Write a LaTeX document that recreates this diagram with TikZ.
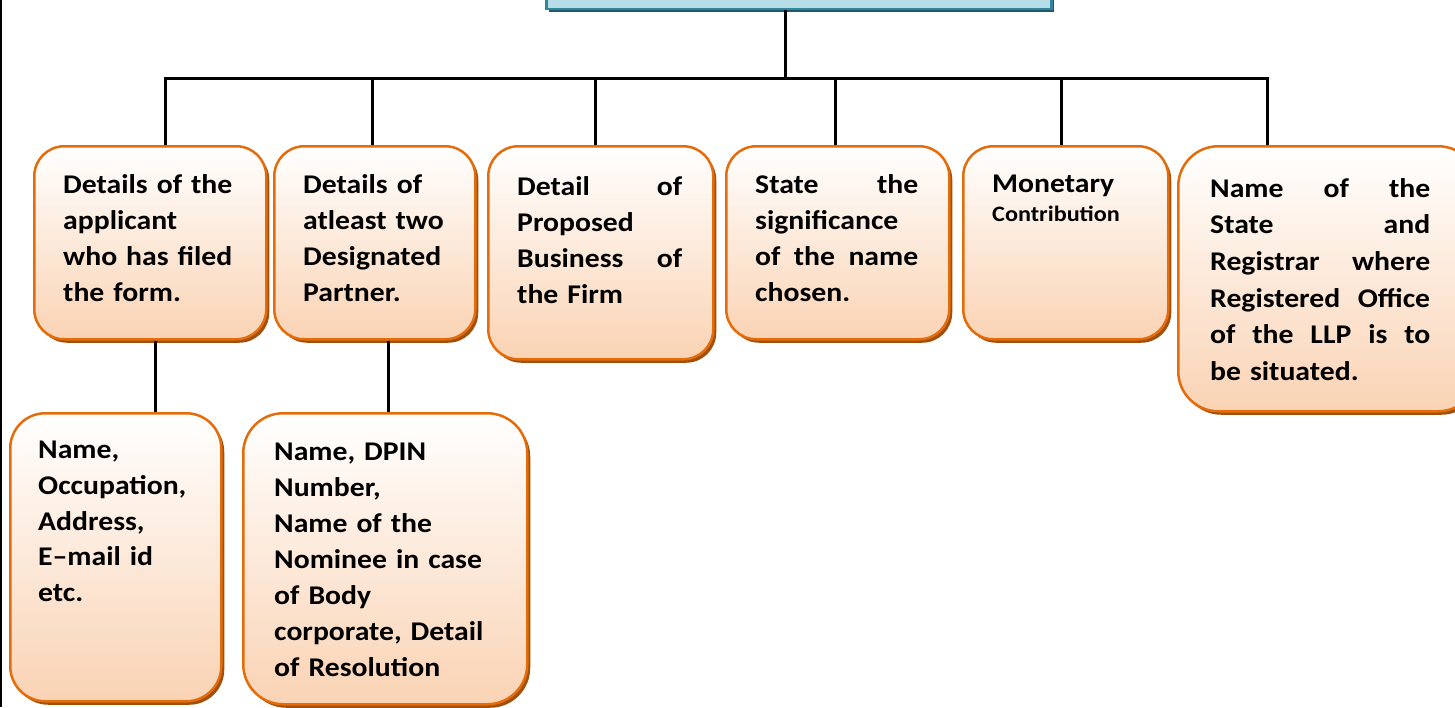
\documentclass[tikz,border=0pt]{standalone}
\usepackage{fontspec}
\setmainfont{Carlito}[FakeStretch=1.1]
\usetikzlibrary{shadows}
\definecolor{obord}{HTML}{E46C0A}
\definecolor{ofill}{HTML}{FAD3B4}
\definecolor{oshad}{HTML}{A0500A}
\definecolor{bfill}{HTML}{B7DEE8}
\definecolor{bbord}{HTML}{31859C}
\definecolor{bshad}{HTML}{215968}
\newcommand{\J}[1]{\leavevmode\hbox to \hsize{\spaceskip=0.25em plus 1fil\relax #1}}
\begin{document}
\begin{tikzpicture}[x=1pt,y=-1pt,
  obox/.style={draw=obord, line width=2.5pt, rounded corners=30pt, top color=white, bottom color=ofill,
    anchor=north west, inner sep=0pt,
    drop shadow={shadow xshift=3pt, shadow yshift=-3.5pt, fill=oshad, opacity=1}},
  txt/.style={anchor=north west, inner sep=0pt, align=left, font=\fontsize{27}{36}\selectfont\bfseries},
  conn/.style={line width=3pt, black}]
\clip (0,0) rectangle (1455,707);
\fill[white] (0,0) rectangle (1455,707);
\draw[line width=2pt] (1,0) -- (1,707);
% top box
\node[draw=bbord, line width=2.5pt, fill=bfill, minimum width=505pt, minimum height=40pt, inner sep=0pt,
  anchor=south west, drop shadow={shadow xshift=3pt, shadow yshift=-3.5pt, fill=bshad, opacity=1}] (top) at (545,10) {};
% boxes
\node[obox, minimum width=232pt, minimum height=193pt] (b1) at (33,145) {};
\node[obox, minimum width=201pt, minimum height=193pt] (b2) at (273,145) {};
\node[obox, minimum width=225pt, minimum height=213pt] (b3) at (487,145) {};
\node[obox, minimum width=223pt, minimum height=193pt] (b4) at (725,145) {};
\node[obox, minimum width=205pt, minimum height=193pt] (b5) at (962,145) {};
\node[obox, rounded corners=40pt, minimum width=300pt, minimum height=265pt] (b6) at (1177,145) {};
\node[obox, rounded corners=35pt, minimum width=211pt, minimum height=288pt] (bA) at (9,412) {};
\node[obox, rounded corners=40pt, minimum width=284pt, minimum height=291pt] (bB) at (242,412) {};
% texts
\node[txt, text width=180pt] (t1) at (63,174) {Details of the\\applicant\\who has filed\\the form.};
\node[txt, text width=180pt] (t2) at (303,174) {Details of\\atleast two\\Designated\\Partner.};
\node[txt, text width=165pt] (t3) at (517,176) {\J{Detail of}\\Proposed\\\J{Business of}\\the Firm};
\node[txt, text width=163pt] (t4) at (755,174) {\J{State the}\\significance\\\J{of the name}\\chosen.};
\node[txt, text width=160pt] (t5) at (992,175) {Monetary\\[-7pt]{\fontsize{22}{28}\selectfont Contribution}};
\node[txt, text width=220pt, font=\fontsize{27}{36.7}\selectfont\bfseries] (t6) at (1210,178) {\J{Name of the}\\\J{State and}\\\J{Registrar where}\\\J{Registered Office}\\\J{of the LLP is to}\\be situated.};
\node[txt, text width=175pt, font=\fontsize{27}{35.7}\selectfont\bfseries] (tA) at (38,441) {Name,\\Occupation,\\Address,\\E--mail id\\etc.};
\node[txt, text width=240pt] (tB) at (274,443) {Name, DPIN\\Number,\\Name of the\\Nominee in case\\of Body\\corporate, Detail\\of Resolution};
% connectors
\coordinate (bus) at (785,78);
\coordinate (c1) at (165,78);
\coordinate (c2) at (372,78);
\coordinate (c3) at (595,78);
\coordinate (c4) at (835,78);
\coordinate (c5) at (1061,78);
\coordinate (c6) at (1267,78);
\draw[conn] (top.south -| bus) -- (bus);
\draw[conn] (c1 |- b1.north) -- (c1) -- (c6) -- (c6 |- b6.north);
\draw[conn] (c2) -- (c2 |- b2.north);
\draw[conn] (c3) -- (c3 |- b3.north);
\draw[conn] (c4) -- (c4 |- b4.north);
\draw[conn] (c5) -- (c5 |- b5.north);
\coordinate (d1) at (155,0);
\coordinate (d2) at (388,0);
\draw[conn] (d1 |- b1.south) -- (d1 |- bA.north);
\draw[conn] (d2 |- b2.south) -- (d2 |- bB.north);
\end{tikzpicture}
\end{document}
